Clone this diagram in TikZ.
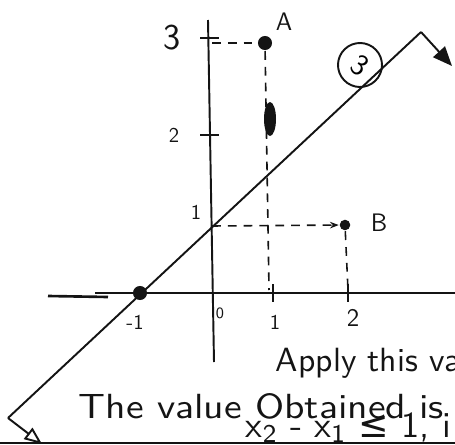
\documentclass[tikz,border=0pt]{standalone}
\usepackage{fontspec}
\newfontfamily\symfont{DejaVu Sans}
\usetikzlibrary{arrows.meta}
\definecolor{ink}{HTML}{141414}

\begin{document}
\begin{tikzpicture}[x=0.2mm,y=-0.2mm,line width=1.1pt,draw=ink,
    guide/.style={dash pattern=on 5pt off 4pt,line width=0.9pt},
    dotmark/.style={circle,fill=ink,inner sep=0pt,minimum size=8pt},
    lbl/.style={font=\sffamily,text=ink,inner sep=1pt}]
  \useasboundingbox (0,0) rectangle (455,445);
  \clip (0,0) rectangle (455,445);

  % axes
  \coordinate (ytop) at (208,20);
  \coordinate (ybot) at (214,362);
  \coordinate (xleft) at (95,293);
  \coordinate (xright) at (455,293);
  \coordinate (xtailL) at (48,296);
  \coordinate (xtailR) at (108,297);
  \draw (ytop) -- (ybot);
  \draw (xleft) -- (xright);
  \draw[line width=1.5pt] (xtailL) -- (xtailR);
  \foreach \y in {38,135}{
    \draw (200,\y) -- (219,\y);
  }
  \foreach \x in {273,348}{
    \draw (\x,284) -- (\x,302);
  }

  % tick labels
  \node[lbl,font=\sffamily\huge] (l3) at (172,38) {3};
  \node[lbl,font=\sffamily\large] (l2) at (174,135) {2};
  \node[lbl,font=\sffamily\large] (l1) at (196,212) {1};
  \node[lbl,font=\sffamily\large] (lm1) at (135,322) {-1};
  \node[lbl,font=\sffamily\small] (l0) at (220,313) {0};
  \node[lbl,font=\sffamily\large] (lx1) at (275,322) {1};
  \node[lbl,font=\sffamily\Large] (lx2) at (353,318) {2};

  % points
  \node[dotmark] (N) at (140,293) {};
  \node[dotmark] (A) at (265,43) {};
  \node[dotmark,minimum size=6pt] (B) at (345,225) {};
  \coordinate (P1) at (212,226);
  \coordinate (A0) at (212,43);
  \coordinate (Ax) at (269,290);
  \coordinate (Bx) at (348,290);
  \node[lbl,font=\sffamily\Large] (Alabel) at (284,22) {A};
  \node[lbl,font=\sffamily\Large] (Blabel) at (379,223) {B};

  % projections
  \draw[guide] (A0) -- (A);
  \draw[guide] (A) -- (Ax);
  \fill[ink] (270,119) ellipse [x radius=6,y radius=17];
  \draw[guide,-{Stealth[length=5pt]}] (P1) -- (B);
  \draw[guide] (B) -- (Bx);

  % constraint line
  \coordinate (cBL) at (8,418);
  \coordinate (cTR) at (421,32);
  \coordinate (tipTR) at (452,66);
  \coordinate (tipBL) at (42,444);
  \draw (cBL) -- (cTR);
  \draw[-{Triangle[length=11pt,width=9pt]}] (cTR) -- (tipTR);
  \draw[-{Triangle[open,length=10pt,width=8pt]}] (cBL) -- (tipBL);
  \node[draw,circle,minimum size=44*0.2mm,inner sep=0pt,
        font=\sffamily\LARGE,rotate=-35] (c3) at (360,65) {3};

  % text below
  \draw[line width=1.6pt] (0,443) -- (455,443);
  \node[lbl,anchor=base west,inner sep=0pt] (t1) at (275,371) {\resizebox{37mm}{!}{Apply this va}};
  \node[lbl,anchor=base west,inner sep=0pt] (t2) at (78,418) {\resizebox{73mm}{5mm}{The value Obtained is}};
  \node[lbl,anchor=base west,inner sep=0pt] (t3) at (245,437) {\resizebox{41mm}{!}{x\textsubscript{2} - x\textsubscript{1} {\symfont ≤} 1, i}};
\end{tikzpicture}
\end{document}
